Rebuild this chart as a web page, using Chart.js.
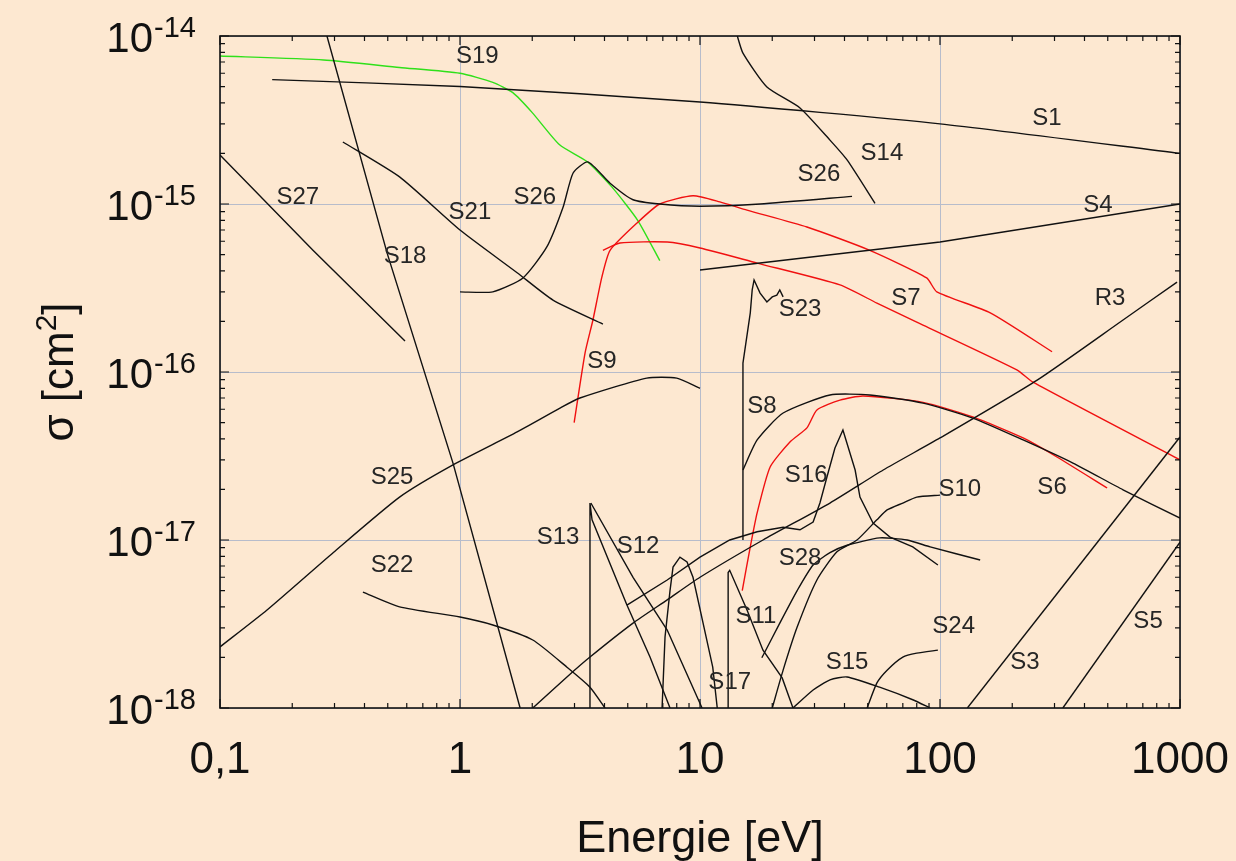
<!DOCTYPE html>
<html>
<head>
<meta charset="utf-8">
<script src="https://cdn.jsdelivr.net/npm/chart.js@4.4.1/dist/chart.umd.min.js"></script>
<style>
    html, body { margin: 0; padding: 0; background: #FDE8D1; }
    #wrap { width: 1236px; height: 861px; }
</style>
</head>
<body>
<div id="wrap"><canvas id="sigmaChart" width="1236" height="861"></canvas></div>
<script>
// axis ticks
const xTicks = [0.1, 1, 10, 100, 1000];
const xTickLabels = ['0,1', '1', '10', '100', '1000'];
const yTickExponents = [-14, -15, -16, -17, -18];

// cross sections [energy eV, sigma cm2]
const S1 = [[0.165, 5.5e-15], [1, 5.0e-15], [10, 4.05e-15], [100, 3.0e-15], [1000, 2.0e-15]];
const S19 = [[0.1, 7.6e-15], [0.27, 7.2e-15], [0.56, 6.5e-15], [1, 6.0e-15], [1.37, 5.3e-15], [1.66, 4.6e-15],
    [2.0, 3.5e-15], [2.6, 2.25e-15], [3.4, 1.78e-15], [4.3, 1.26e-15], [5.5, 8.0e-16], [6.8, 4.6e-16]];
const S18 = [[0.279, 1e-14], [0.497, 5.1e-16], [0.935, 2.87e-17], [1.78, 1e-18]];
const S27 = [[0.1, 1.96e-15], [0.244, 5.3e-16], [0.59, 1.53e-16]];
const S21 = [[0.325, 2.34e-15], [0.56, 1.45e-15], [1, 7.0e-16], [1.73, 3.9e-16], [2.44, 2.68e-16], [3.94, 1.93e-16]];
const S26 = [[1, 3.0e-16], [1.37, 3.0e-16], [1.83, 3.63e-16], [2.3, 5.55e-16], [2.69, 9.6e-16], [2.96, 1.53e-15],
    [3.41, 1.78e-15], [4.22, 1.33e-15], [5.26, 1.06e-15], [6.8, 1.0e-15], [10, 9.7e-16], [17.8, 1.0e-15], [43, 1.11e-15]];
const S14 = [[14.3, 1e-14], [15.1, 7.9e-15], [19, 4.97e-15], [26.1, 3.73e-15], [34.8, 2.4e-15], [41, 1.83e-15], [53.6, 1.01e-15]];
const S4 = [[10, 4.05e-16], [100, 5.94e-16], [1000, 1e-15]];
const S9 = [[2.99, 5.0e-17], [3.32, 1.3e-16], [3.58, 2.04e-16], [3.9, 3.67e-16], [4.22, 5.3e-16], [5.46, 7.7e-16],
    [6.8, 1.0e-15], [9.35, 1.12e-15], [12.1, 1.03e-15], [15.7, 9.2e-16], [27.9, 7.3e-16], [51, 5.3e-16],
    [88, 3.63e-16], [97, 3.0e-16], [162, 2.25e-16], [293, 1.32e-16]];
const S7 = [[3.94, 5.3e-16], [4.64, 5.86e-16], [7.3, 5.94e-16], [10, 5.47e-16], [17.3, 4.45e-16], [38.3, 3.3e-16],
    [54.6, 2.57e-16], [80, 1.98e-16], [209, 1.03e-16], [244, 8.7e-17], [1000, 3.0e-17]];
const S23 = [[15.1, 1.0e-17], [15.1, 1.13e-16], [16.2, 2.25e-16], [16.5, 3.08e-16], [16.8, 3.53e-16], [17.8, 2.95e-16],
    [19, 2.61e-16], [20, 2.8e-16], [20.9, 2.87e-16], [21.5, 3.08e-16], [22.2, 2.8e-16]];
const S8 = [[15.1, 2.61e-17], [17.3, 3.94e-17], [22.2, 5.7e-17], [34.8, 7.3e-17], [51, 7.3e-17], [85, 6.53e-17],
    [137, 5.32e-17], [222, 3.94e-17], [358, 2.87e-17], [579, 1.99e-17], [1000, 1.35e-17]];
const S6 = [[15.0, 5.0e-18], [16.2, 9.1e-18], [17.3, 1.45e-17], [19.6, 2.72e-17], [23.7, 3.83e-17], [27.9, 4.65e-17],
    [30.7, 5.94e-17], [38.3, 6.8e-17], [47.8, 7.2e-17], [85, 6.6e-17], [137, 5.4e-17], [222, 4.05e-17],
    [307, 3.12e-17], [497, 2.04e-17]];
const S16 = [[4.96, 4.1e-18], [7.3, 5.78e-18], [10, 7.9e-18], [13.3, 1.0e-17], [17.3, 1.12e-17], [22.2, 1.19e-17],
    [26.1, 1.15e-17], [29.6, 1.28e-17], [31.6, 1.66e-17], [33.8, 2.37e-17], [36.5, 3.53e-17], [39.4, 4.52e-17],
    [44.3, 2.61e-17], [46.4, 1.8e-17], [52.6, 1.26e-17], [61.9, 1.04e-17], [77, 9.1e-18], [98, 7.1e-18]];
const R3 = [[2.01, 1e-18], [2.79, 1.53e-18], [3.48, 2.01e-18], [5.26, 3.2e-18], [7.3, 4.4e-18], [10, 6.0e-18],
    [18.3, 1.0e-17], [34.8, 1.66e-17], [58, 2.61e-17], [100, 4.05e-17], [254, 8.95e-17], [579, 2.04e-16], [972, 3.43e-16]];
const S10 = [[20, 1e-18], [22.2, 1.68e-18], [25.4, 3.03e-18], [30.7, 5.78e-18], [37.2, 8.5e-18], [45.1, 1.0e-17],
    [54.6, 1.32e-17], [60.2, 1.51e-17], [70, 1.66e-17], [80, 1.8e-17], [100, 1.85e-17]];
const S28 = [[18.1, 1.99e-18], [21.5, 3.2e-18], [25.4, 5.0e-18], [29.6, 7.1e-18], [34.8, 8.4e-18], [41, 9.3e-18],
    [56, 1.03e-17], [73, 1.0e-17], [91, 9.1e-18], [147, 7.6e-18]];
const S24 = [[49.7, 1e-18], [54.6, 1.41e-18], [60.2, 1.68e-18], [70, 2.01e-18], [80, 2.12e-18], [98, 2.21e-18]];
const S15 = [[24.4, 1e-18], [29.6, 1.28e-18], [34.8, 1.47e-18], [41, 1.53e-18], [56, 1.33e-18], [77, 1.12e-18], [91, 1e-18]];
const S3 = [[130, 1e-18], [1000, 4.1e-17]];
const S5 = [[325, 1e-18], [1000, 9.7e-18]];
const S25 = [[0.1, 2.31e-18], [0.157, 3.83e-18], [0.296, 8.4e-18], [0.56, 1.8e-17], [0.935, 2.8e-17], [1.73, 4.4e-17],
    [2.61, 6.1e-17], [3.16, 7.0e-17], [6.0, 9.2e-17], [8.0, 9.2e-17], [10, 8.0e-17]];
const S22 = [[0.394, 4.9e-18], [0.56, 4.0e-18], [1, 3.48e-18], [1.37, 3.12e-18], [2.01, 2.54e-18], [2.79, 1.75e-18],
    [3.48, 1.33e-18], [4.02, 1e-18]];
const S13 = [[3.48, 1e-18], [3.48, 1.66e-17], [3.55, 1.32e-17], [4.96, 4.1e-18], [6.19, 2.01e-18], [7.5, 1e-18]];
const S12 = [[3.51, 1.66e-17], [5.26, 6.0e-18], [7.3, 2.91e-18], [10.2, 1e-18]];
const S17 = [[6.95, 1e-18], [7.15, 2.65e-18], [7.5, 5.0e-18], [7.72, 6.9e-18], [8.25, 7.9e-18], [8.83, 7.4e-18],
    [9.35, 6.0e-18], [10.3, 3.2e-18], [11.3, 1.75e-18], [11.8, 1e-18]];
const S11 = [[13.1, 1e-18], [13.1, 6.4e-18], [13.3, 6.6e-18], [15.7, 3.83e-18], [18.3, 2.21e-18], [22, 1.51e-18], [24.4, 1e-18]];

// label anchors [text, energy, sigma]
const curveLabels = [
    ['S19', 1.18, 7.6e-15], ['S1', 279, 3.25e-15], ['S14', 57.3, 1.99e-15], ['S26', 31.3, 1.51e-15],
    ['S26', 2.05, 1.1e-15], ['S27', 0.211, 1.1e-15], ['S21', 1.1, 8.96e-16], ['S4', 455, 9.86e-16],
    ['S18', 0.59, 4.9e-16], ['S23', 26.1, 2.37e-16], ['S7', 72.1, 2.76e-16], ['R3', 511, 2.76e-16],
    ['S9', 3.9, 1.15e-16], ['S8', 18.1, 6.28e-17], ['S16', 27.7, 2.44e-17], ['S10', 121, 1.99e-17],
    ['S6', 293, 2.07e-17], ['S25', 0.521, 2.37e-17], ['S13', 2.56, 1.03e-17], ['S12', 5.52, 9.2e-18],
    ['S28', 26.1, 7.8e-18], ['S22', 0.521, 7.1e-18], ['S11', 17.1, 3.53e-18], ['S24', 114, 3.08e-18],
    ['S5', 736, 3.3e-18], ['S15', 41, 1.88e-18], ['S3', 226, 1.88e-18], ['S17', 13.3, 1.43e-18]
];

const curves = [
    ['S1', S1], ['S18', S18], ['S27', S27], ['S21', S21], ['S26', S26], ['S14', S14], ['S4', S4],
    ['S23', S23], ['S8', S8], ['S16', S16], ['R3', R3], ['S10', S10], ['S28', S28], ['S24', S24],
    ['S15', S15], ['S3', S3], ['S5', S5], ['S25', S25], ['S22', S22], ['S13', S13], ['S12', S12],
    ['S17', S17], ['S11', S11], ['S9', S9], ['S7', S7], ['S6', S6], ['S19', S19]
];
const redCurves = ['S6', 'S7', 'S9'];
const greenCurves = ['S19'];
const sharpCurves = ['S3', 'S4', 'S5', 'S11', 'S12', 'S13', 'S16', 'S17', 'S18', 'S23', 'S27'];

const FONT = '"Liberation Sans", Arial, sans-serif';
const BG = '#FDE8D1';

function lineColor(name) {
    if (redCurves.includes(name)) return '#f01010';
    if (greenCurves.includes(name)) return '#2fe01a';
    return '#111111';
}

const datasets = curves.map(([name, values]) => ({
    label: name,
    data: values.map(p => ({ x: p[0], y: p[1] })),
    showLine: true,
    borderColor: lineColor(name),
    borderWidth: 1.4,
    pointRadius: 0,
    tension: sharpCurves.includes(name) ? 0 : 0.2,
    fill: false
}));

const decor = {
    id: 'decor',
    beforeDraw(chart) {
        const ctx = chart.ctx;
        ctx.save();
        ctx.fillStyle = BG;
        ctx.fillRect(0, 0, chart.width, chart.height);
        ctx.restore();
    },
    afterDraw(chart) {
        const ctx = chart.ctx;
        const area = chart.chartArea;
        const xs = chart.scales.x;
        const ys = chart.scales.y;
        ctx.save();

        // frame
        ctx.strokeStyle = '#111';
        ctx.lineWidth = 1.6;
        ctx.strokeRect(area.left, area.top, area.right - area.left, area.bottom - area.top);

        // inner ticks on all four sides
        ctx.lineWidth = 1.2;
        ctx.beginPath();
        for (let d = -1; d <= 2; d++) {
            for (let m = 1; m <= 10; m++) {
                const v = m * Math.pow(10, d);
                const px = xs.getPixelForValue(v);
                const len = (m === 1 || m === 10) ? 9 : 5;
                ctx.moveTo(px, area.bottom); ctx.lineTo(px, area.bottom - len);
                ctx.moveTo(px, area.top); ctx.lineTo(px, area.top + len);
            }
        }
        for (let d = -18; d <= -15; d++) {
            for (let m = 1; m <= 10; m++) {
                const v = m * Math.pow(10, d);
                const py = ys.getPixelForValue(v);
                const len = (m === 1 || m === 10) ? 9 : 5;
                ctx.moveTo(area.left, py); ctx.lineTo(area.left + len, py);
                ctx.moveTo(area.right, py); ctx.lineTo(area.right - len, py);
            }
        }
        ctx.stroke();

        // x tick labels
        ctx.fillStyle = '#111';
        ctx.font = '44px ' + FONT;
        ctx.textAlign = 'center';
        ctx.textBaseline = 'alphabetic';
        xTicks.forEach((v, i) => {
            ctx.fillText(xTickLabels[i], xs.getPixelForValue(v), 773);
        });

        // y tick labels with superscript exponent
        yTickExponents.forEach(e => {
            const py = ys.getPixelForValue(Math.pow(10, e));
            const sup = String(e);
            ctx.font = '29px ' + FONT;
            const wSup = ctx.measureText(sup).width;
            ctx.font = '42px ' + FONT;
            const wBase = ctx.measureText('10').width;
            const right = 196;
            ctx.textAlign = 'left';
            ctx.fillText('10', right - wSup - wBase - 1, py + 16);
            ctx.font = '29px ' + FONT;
            ctx.fillText(sup, right - wSup, py + 1);
        });

        // x axis title
        ctx.font = '45px ' + FONT;
        ctx.textAlign = 'center';
        ctx.fillText('Energie [eV]', (area.left + area.right) / 2, 852);

        // y axis title
        ctx.save();
        ctx.translate(73, (area.top + area.bottom) / 2);
        ctx.rotate(-Math.PI / 2);
        ctx.textAlign = 'left';
        ctx.font = '44px ' + FONT;
        const p1 = '\u03c3 [cm';
        const p3 = ']';
        const w1 = ctx.measureText(p1).width;
        const w3 = ctx.measureText(p3).width;
        ctx.font = '30px ' + FONT;
        const w2 = ctx.measureText('2').width;
        let x0 = -(w1 + w2 + w3) / 2;
        ctx.font = '44px ' + FONT;
        ctx.fillText(p1, x0, 0);
        ctx.font = '30px ' + FONT;
        ctx.fillText('2', x0 + w1, -17);
        ctx.font = '44px ' + FONT;
        ctx.fillText(p3, x0 + w1 + w2, 0);
        ctx.restore();

        // curve labels
        ctx.font = '24px ' + FONT;
        ctx.fillStyle = '#262626';
        ctx.textAlign = 'center';
        ctx.textBaseline = 'middle';
        curveLabels.forEach(([t, ex, sy]) => {
            ctx.fillText(t, xs.getPixelForValue(ex), ys.getPixelForValue(sy));
        });

        ctx.restore();
    }
};

document.addEventListener('DOMContentLoaded', function() {
    const ctx = document.getElementById('sigmaChart').getContext('2d');
    new Chart(ctx, {
        type: 'scatter',
        data: { datasets: datasets },
        options: {
            responsive: false,
            animation: false,
            devicePixelRatio: 1,
            layout: { padding: { left: 220, right: 56, top: 36, bottom: 153 } },
            plugins: {
                legend: { display: false },
                tooltip: { enabled: false }
            },
            scales: {
                x: {
                    type: 'logarithmic',
                    min: 0.1,
                    max: 1000,
                    afterBuildTicks: axis => { axis.ticks = xTicks.map(v => ({ value: v })); },
                    afterFit: axis => { axis.height = 0; },
                    ticks: { display: false },
                    grid: { color: '#b7bccb', lineWidth: 1, drawTicks: false },
                    border: { display: false }
                },
                y: {
                    type: 'logarithmic',
                    min: 1e-18,
                    max: 1e-14,
                    afterBuildTicks: axis => { axis.ticks = yTickExponents.map(e => ({ value: Math.pow(10, e) })); },
                    afterFit: axis => { axis.width = 0; },
                    ticks: { display: false },
                    grid: { color: '#b7bccb', lineWidth: 1, drawTicks: false },
                    border: { display: false }
                }
            }
        },
        plugins: [decor]
    });
});
</script>
</body>
</html>
